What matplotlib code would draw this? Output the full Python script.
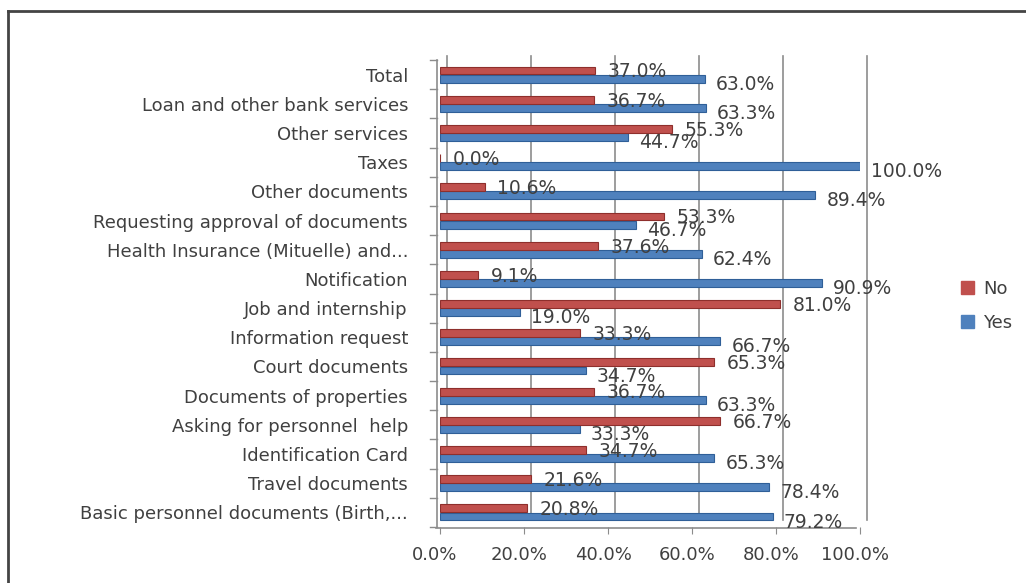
import matplotlib
matplotlib.use("Agg")
import matplotlib.pyplot as plt
import matplotlib.transforms as mtransforms
from matplotlib.lines import Line2D
import numpy as np

categories = [
    "Basic personnel documents (Birth,...",
    "Travel documents",
    "Identification Card",
    "Asking for personnel  help",
    "Documents of properties",
    "Court documents",
    "Information request",
    "Job and internship",
    "Notification",
    "Health Insurance (Mituelle) and...",
    "Requesting approval of documents",
    "Other documents",
    "Taxes",
    "Other services",
    "Loan and other bank services",
    "Total",
]
yes_vals = [79.2, 78.4, 65.3, 33.3, 63.3, 34.7, 66.7, 19.0, 90.9, 62.4, 46.7, 89.4, 100.0, 44.7, 63.3, 63.0]
no_vals = [20.8, 21.6, 34.7, 66.7, 36.7, 65.3, 33.3, 81.0, 9.1, 37.6, 53.3, 10.6, 0.0, 55.3, 36.7, 37.0]
x_ticks = [0, 20, 40, 60, 80, 100]

RED = "#C0504D"
BLUE = "#4F81BD"
TXT = "#404040"
GRID = "#8C8C8C"

W, H = 1026, 583
fig = plt.figure(figsize=(W / 100, H / 100), dpi=100)
ax = fig.add_axes([440 / W, 1 - 527 / H, (860 - 440) / W, (527 - 60) / H])
ax.set_xlim(0, 100)
ax.set_ylim(-0.5, len(categories) - 0.5)

y = np.arange(len(categories))
bh = 0.27
off = 0.14
ax.barh(y - off, yes_vals, height=bh, color=BLUE, edgecolor="#2F5F98", linewidth=0.8, zorder=3, label="Yes")
ax.barh(y + off, no_vals, height=bh, color=RED, edgecolor="#8E2F2C", linewidth=0.8, zorder=3, label="No")

# 3D-ish back wall gridlines (offset right/up)
back = mtransforms.offset_copy(ax.transData, fig=fig, x=7, y=7, units="dots")
for v in x_ticks:
    ax.plot([v, v], [-0.5, len(categories) - 0.5 - 0.1], transform=back, color=GRID, lw=1.2, zorder=1, clip_on=False)

# front axis lines and ticks
for s in ax.spines.values():
    s.set_visible(False)
front = mtransforms.offset_copy(ax.transData, fig=fig, x=-3, y=0, units="dots")
ax.plot([0, 0], [-0.5, len(categories) - 0.5], transform=front, color=GRID, lw=1.2, clip_on=False, zorder=2)
ax.plot([0, 100], [-0.5, -0.5], transform=mtransforms.offset_copy(ax.transData, fig=fig, x=-4, y=-1, units="dots"),
        color=GRID, lw=1.2, clip_on=False, zorder=2)

ax.set_xticks(x_ticks)
ax.set_xticklabels([f"{v:.1f}%" for v in x_ticks], fontsize=13, color=TXT, family="DejaVu Sans")
ax.set_yticks(y)
ax.set_yticklabels(categories, fontsize=13, color=TXT, family="DejaVu Sans")
ax.tick_params(axis="y", length=0, pad=23)
ax.tick_params(axis="x", length=5, color=GRID, pad=9, direction="out")
for lab in ax.get_xticklabels():
    lab.set_transform(lab.get_transform() + mtransforms.ScaledTranslation(-5 / 100, 0, fig.dpi_scale_trans))
# category boundary ticks on left
for b in np.arange(-0.5, len(categories), 1.0):
    ax.plot([-1.6, 0], [b, b], transform=front, color=GRID, lw=1, clip_on=False)

# data labels
for yi, v in zip(y, yes_vals):
    ax.annotate(f"{v:.1f}%", (v, yi - off), xytext=(8, -4), textcoords="offset points",
                va="center", ha="left", fontsize=13.5, color=TXT, zorder=4, annotation_clip=False)
for yi, v in zip(y, no_vals):
    ax.annotate(f"{v:.1f}%", (v, yi + off), xytext=(9, -1), textcoords="offset points",
                va="center", ha="left", fontsize=13.5, color=TXT, zorder=4, annotation_clip=False)

# legend
handles = [plt.Rectangle((0, 0), 1, 1, color=RED), plt.Rectangle((0, 0), 1, 1, color=BLUE)]
fig.legend(handles, ["No", "Yes"], loc="center left", bbox_to_anchor=(945 / W, 1 - 306 / H),
           frameon=False, fontsize=13, labelcolor=TXT, handlelength=0.7, handleheight=0.7,
           handletextpad=0.5, labelspacing=0.9)

# figure border (left and top)
fig.add_artist(Line2D([8 / W, 8 / W], [0, 1 - 11 / H], transform=fig.transFigure, color="#444444", lw=2))
fig.add_artist(Line2D([8 / W, 1], [1 - 11 / H, 1 - 11 / H], transform=fig.transFigure, color="#444444", lw=2))

fig.savefig("out.png", dpi=100, facecolor="white")
